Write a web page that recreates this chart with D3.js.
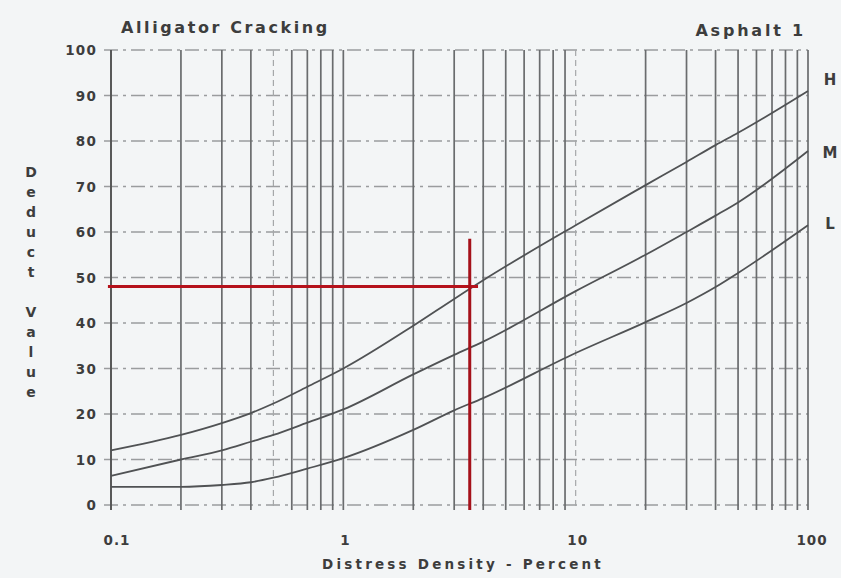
<!DOCTYPE html>
<html>
<head>
<meta charset="utf-8">
<script src="https://cdn.jsdelivr.net/npm/d3@7"></script>
<style>
  body { margin: 0; background: #f3f5f6; }
  svg text { font-family: "DejaVu Sans", "Liberation Sans", Arial, sans-serif; font-weight: bold; fill: #3d3d3d; }
</style>
</head>
<body>
<svg id="chart" width="841" height="578"></svg>
<script>
// density (percent) at which the curves were read
const density = [0.1, 0.2, 0.3, 0.4, 0.5, 0.7, 1, 2, 3, 4, 10, 20, 30, 40, 50, 100];
const highSev = [12, 15.4, 18, 20.2, 22.3, 26, 30, 39.4, 45.3, 49.4, 61.5, 70.3, 75.4, 79.1, 81.8, 91];
const medSev  = [6.4, 10, 12, 13.9, 15.4, 18.1, 21, 28.7, 33, 35.9, 47, 55, 60, 63.6, 66.5, 77.8];
const lowSev  = [4, 4, 4.4, 5, 6, 8, 10.3, 16.5, 20.8, 23.5, 33.4, 40.2, 44.4, 47.9, 51, 61.5];
const seriesNames = ["H", "M", "L"];
const labelValues = [93.6, 77.6, 62];

const yTicks = [0, 10, 20, 30, 40, 50, 60, 70, 80, 90, 100];
const xTickLabels = [0.1, 1, 10, 100];
const dashedDecades = [0.5, 10];

// red read-off guide: deduct value 48 at density ~3.5
const guideDensity = 3.5;
const guideValue = 48;
const guideHorizX = [0.097, 3.8];
const guideVertY = [-1.1, 58.5];

const svg = d3.select("#chart");
const margin = { left: 111, right: 33, top: 50, bottom: 73 };
const W = 841, H = 578;

const x = d3.scaleLog().domain([0.1, 100]).range([margin.left, W - margin.right]);
const y = d3.scaleLinear().domain([0, 100]).range([H - margin.bottom, margin.top]);

// all minor vertical lines 0.1..100
const vLines = [];
[0.1, 1, 10].forEach(dec => { for (let k = 1; k <= 9; k++) vLines.push(+(dec * k).toPrecision(3)); });
vLines.push(100);

const grid = svg.append("g");

grid.selectAll(".hgrid").data(yTicks).enter().append("line")
    .attr("x1", x(0.1) - 7).attr("x2", x(100))
    .attr("y1", d => y(d)).attr("y2", d => y(d))
    .attr("stroke", "#9a9c9e").attr("stroke-width", 1.3)
    .attr("stroke-dasharray", "14,5,3,5");

grid.selectAll(".vgrid").data(vLines).enter().append("line")
    .attr("x1", d => x(d)).attr("x2", d => x(d))
    .attr("y1", y(100)).attr("y2", y(0) + 5)
    .attr("stroke", d => dashedDecades.includes(d) ? "#a5a7a9" : "#6a6c6e")
    .attr("stroke-width", d => dashedDecades.includes(d) ? 1.2 : 1.7)
    .attr("stroke-dasharray", d => dashedDecades.includes(d) ? "6,4" : null);

// y axis line
svg.append("line").attr("x1", x(0.1)).attr("x2", x(0.1)).attr("y1", y(100)).attr("y2", y(0) + 5)
    .attr("stroke", "#555").attr("stroke-width", 1.8);

svg.selectAll(".ylab").data(yTicks).enter().append("text")
    .attr("x", 97).attr("y", d => y(d) + 5)
    .attr("text-anchor", "end").style("font-size", "13.5px").style("letter-spacing", "1.2px")
    .text(d => d);

svg.selectAll(".xlab").data(xTickLabels).enter().append("text")
    .attr("x", d => x(d) + (d === 0.1 ? 6 : d === 100 ? 4 : 2)).attr("y", 545)
    .attr("text-anchor", "middle").style("font-size", "13.5px").style("letter-spacing", "1px")
    .text(d => d);

svg.append("text").attr("x", 463).attr("y", 569).attr("text-anchor", "middle")
    .style("font-size", "13.5px").style("letter-spacing", "3.2px")
    .text("Distress Density - Percent");

const yTitle = "Deduct Value".split("");
svg.selectAll(".ytitle").data(yTitle).enter().append("text")
    .attr("x", 31).attr("y", (d, i) => 177 + i * 20)
    .attr("text-anchor", "middle").style("font-size", "14px")
    .text(d => d);

svg.append("text").attr("x", 121).attr("y", 33).style("font-size", "16px")
    .style("letter-spacing", "2.6px").text("Alligator Cracking");
svg.append("text").attr("x", 806).attr("y", 36).attr("text-anchor", "end")
    .style("font-size", "16px").style("letter-spacing", "2.8px").text("Asphalt 1");

// curves
const series = [highSev, medSev, lowSev];
const line = d3.line().x(d => x(d[0])).y(d => y(d[1])).curve(d3.curveMonotoneX);
svg.selectAll(".curve").data(series).enter().append("path")
    .attr("d", s => line(density.map((dv, i) => [dv, s[i]])))
    .attr("fill", "none").attr("stroke", "#505254").attr("stroke-width", 1.8);

svg.selectAll(".slab").data(seriesNames).enter().append("text")
    .attr("x", 830).attr("y", (d, i) => y(labelValues[i]) + 6)
    .attr("text-anchor", "middle").style("font-size", "15px")
    .text(d => d);

// red guide lines
svg.append("line").attr("x1", x(guideHorizX[0])).attr("x2", x(guideHorizX[1]))
    .attr("y1", y(guideValue)).attr("y2", y(guideValue))
    .attr("stroke", "#b5121b").attr("stroke-width", 3);
svg.append("line").attr("x1", x(guideDensity)).attr("x2", x(guideDensity))
    .attr("y1", y(guideVertY[1])).attr("y2", y(guideVertY[0]))
    .attr("stroke", "#a5111a").attr("stroke-width", 3);
</script>
</body>
</html>
